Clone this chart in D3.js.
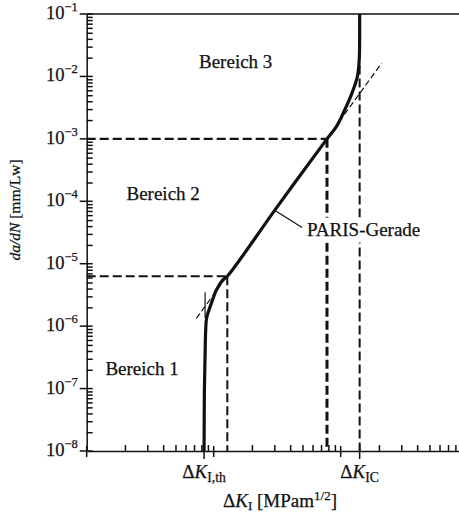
<!DOCTYPE html>
<html>
<head>
<meta charset="utf-8">
<script src="https://cdn.jsdelivr.net/npm/d3@7"></script>
<style>
  html, body { margin: 0; padding: 0; background: #fff; }
  svg { display: block; font-family: "Liberation Serif", "Times New Roman", serif; }
  text { fill: #111; stroke: #111; stroke-width: 0.25px; }
</style>
</head>
<body>
<script>
// Crack growth rate da/dN over stress intensity range ΔK (schematic, log-log)

// y decades (da/dN, mm per load cycle) and their exponents
const yDecades = [1e-8, 1e-7, 1e-6, 1e-5, 1e-4, 1e-3, 1e-2, 1e-1];
const yExponents = [-8, -7, -6, -5, -4, -3, -2, -1];

// x decades (ΔK, MPa·m^1/2)
const xDecades = [1, 10, 100];

// characteristic thresholds
const deltaKth = 8.4;
const deltaKIC = 141;

// crack growth curve [ΔK, da/dN]
const growthCurve = [
  [8.40, 1e-8],
  [8.45, 1e-7],
  [8.55, 3.2e-7],
  [8.65, 8.7e-7],
  [8.8, 1.35e-6],
  [9.6, 2.35e-6],
  [10.5, 3.8e-6],
  [11.8, 5.5e-6],
  [12.8, 6.3e-6],
  [31.7, 8.2e-5],
  [78, 1e-3],
  [92.5, 1.57e-3],
  [107.5, 2.9e-3],
  [122.7, 5.4e-3],
  [135.3, 9.9e-3],
  [139.9, 1.83e-2],
  [141, 4e-2],
  [141, 1e-1]
];

// PARIS straight line end points [ΔK, da/dN]
const parisLine = [[7.3, 1.33e-6], [210, 1.63e-2]];

// range limits of region 2 [ΔK, da/dN]
const region2Low = [12.8, 6.3e-6];
const region2High = [78, 1e-3];

// upper end of the ΔK_IC marker and short ΔK_th marker
const kicMarkerTop = 1.5e-2;
const kthMarker = [1.35e-6, 3.5e-6];

// region labels [text, ΔK, da/dN]
const regionLabels = [
  ["Bereich 3", 14.9, 1.36e-2],
  ["Bereich 2", 4.0, 1.05e-4],
  ["Bereich 1", 2.73, 1.65e-7]
];

// PARIS label pointer on the line [ΔK, da/dN]
const parisPointer = [30.4, 7.1e-5];
const parisText = "PARIS-Gerade";

const W = 459, H = 518;

const svg = d3.select("body").append("svg")
  .attr("width", W).attr("height", H);

const x = d3.scaleLog().domain([1, 1000]).range([86.7, 467.7]);
const y = d3.scaleLog().domain([1e-8, 1e-1]).range([451, 14]);

const ink = "#111";

// ---------- axes ----------
const xMinor = x.ticks().filter(v => !xDecades.includes(v) && v < 1000);
const yMinor = y.ticks().filter(v => !yDecades.some(d => Math.abs(d - v) / d < 1e-9));

const gx = svg.append("g")
  .attr("transform", `translate(0,${y(1e-8)})`)
  .call(d3.axisBottom(x).tickValues(xMinor).tickSize(-6).tickSizeOuter(0).tickFormat(""));
gx.selectAll("path, line").attr("stroke", ink).attr("stroke-width", 1.5);

const gy = svg.append("g")
  .attr("transform", `translate(${x(1)},0)`)
  .call(d3.axisLeft(y).tickValues(yMinor).tickSize(-6).tickSizeOuter(0).tickFormat(""));
gy.selectAll("path, line").attr("stroke", ink).attr("stroke-width", 1.5);

// top frame line
svg.append("line")
  .attr("x1", x(1)).attr("x2", W)
  .attr("y1", y(1e-1)).attr("y2", y(1e-1))
  .attr("stroke", ink).attr("stroke-width", 1.5);

// decade ticks on x
svg.selectAll(".xmaj").data(xDecades).join("line")
  .attr("x1", d => x(d)).attr("x2", d => x(d))
  .attr("y1", y(1e-8) - 5).attr("y2", y(1e-8) + 6)
  .attr("stroke", ink).attr("stroke-width", 1.5);

// decade ticks on y
svg.selectAll(".ymaj").data(yDecades).join("line")
  .attr("x1", x(1) - 7).attr("x2", x(1) + 6)
  .attr("y1", d => y(d)).attr("y2", d => y(d))
  .attr("stroke", ink).attr("stroke-width", 1.5);

// y tick labels 10^n
const yLab = svg.selectAll(".ylab").data(yDecades).join("text")
  .attr("x", x(1) - 9)
  .attr("y", d => y(d) + 5)
  .attr("text-anchor", "end")
  .attr("font-size", 18.5);
yLab.append("tspan").text("10");
yLab.append("tspan").attr("dy", -8).attr("font-size", 12.5)
  .text((d, i) => "\u2212" + Math.abs(yExponents[i]));

// ΔK marker ticks on x
[deltaKth, deltaKIC].forEach(v => {
  svg.append("line")
    .attr("x1", x(v)).attr("x2", x(v))
    .attr("y1", y(1e-8) - 6).attr("y2", y(1e-8) + 8)
    .attr("stroke", ink).attr("stroke-width", 1.5);
});

function deltaKLabel(xPos, yPos, sub, size) {
  const t = svg.append("text")
    .attr("x", xPos).attr("y", yPos)
    .attr("text-anchor", "middle")
    .attr("font-size", size);
  t.append("tspan").text("\u0394");
  t.append("tspan").attr("font-style", "italic").text("K");
  t.append("tspan").attr("dy", 4).attr("font-size", size * 0.72).text(sub);
  return t;
}
deltaKLabel(x(deltaKth), 478, "I,th", 19);
deltaKLabel(x(deltaKIC), 478, "IC", 19);

// x axis title
const xt = svg.append("text")
  .attr("x", 280).attr("y", 506.5)
  .attr("text-anchor", "middle")
  .attr("font-size", 19);
xt.append("tspan").text("\u0394");
xt.append("tspan").attr("font-style", "italic").text("K");
xt.append("tspan").attr("dy", 3).attr("font-size", 13).text("I");
xt.append("tspan").attr("dy", -3).text(" [MPam");
xt.append("tspan").attr("dy", -7).attr("font-size", 13).text("1/2");
xt.append("tspan").attr("dy", 7).text("]");

// y axis title
const yt = svg.append("text")
  .attr("transform", `translate(20,210) rotate(-90)`)
  .attr("text-anchor", "middle")
  .attr("font-size", 15.5);
yt.append("tspan").attr("font-style", "italic").text("da/dN");
yt.append("tspan").text(" [mm/Lw]");

// ---------- dashed guide lines ----------
const guide = (x1, y1, x2, y2, w) => svg.append("line")
  .attr("x1", x1).attr("y1", y1).attr("x2", x2).attr("y2", y2)
  .attr("stroke", ink).attr("stroke-width", w)
  .attr("stroke-dasharray", "9,4");

guide(x(1), y(region2Low[1]), x(region2Low[0]), y(region2Low[1]), 2.2);
guide(x(region2Low[0]), y(region2Low[1]), x(region2Low[0]), y(1e-8), 2);
guide(x(1), y(region2High[1]), x(region2High[0]), y(region2High[1]), 2.2);
guide(x(region2High[0]), y(region2High[1]), x(region2High[0]), y(1e-8), 3);
guide(x(deltaKIC), y(kicMarkerTop), x(deltaKIC), y(1e-8), 2);

// short ΔK_th marker
svg.append("line")
  .attr("x1", x(deltaKth) + 1).attr("x2", x(deltaKth) + 1)
  .attr("y1", y(kthMarker[0])).attr("y2", y(kthMarker[1]))
  .attr("stroke", ink).attr("stroke-width", 1.2);

// PARIS straight line (thin dashed)
svg.append("line")
  .attr("x1", x(parisLine[0][0])).attr("y1", y(parisLine[0][1]))
  .attr("x2", x(parisLine[1][0])).attr("y2", y(parisLine[1][1]))
  .attr("stroke", ink).attr("stroke-width", 1.2)
  .attr("stroke-dasharray", "6,3");

// ---------- growth curve ----------
const line = d3.line()
  .x(d => x(d[0])).y(d => y(d[1]))
  .curve(d3.curveCatmullRom.alpha(0.5));

svg.append("path")
  .datum(growthCurve)
  .attr("d", line)
  .attr("fill", "none")
  .attr("stroke", ink)
  .attr("stroke-width", 3.2)
  .attr("stroke-linejoin", "round")
  .attr("stroke-linecap", "butt");

// ---------- labels ----------
svg.selectAll(".region").data(regionLabels).join("text")
  .attr("x", d => x(d[1])).attr("y", d => y(d[2]))
  .attr("text-anchor", "middle")
  .attr("font-size", 19)
  .text(d => d[0]);

const px = x(parisPointer[0]), py = y(parisPointer[1]);
svg.append("line")
  .attr("x1", px).attr("y1", py)
  .attr("x2", px + 27).attr("y2", py + 17)
  .attr("stroke", ink).attr("stroke-width", 1.2);
const pLabel = svg.append("text")
  .attr("x", px + 32).attr("y", py + 25)
  .attr("font-size", 19)
  .text(parisText);
// white backing so the guide lines break around the label
const bb = pLabel.node().getBBox();
svg.insert("rect", () => pLabel.node())
  .attr("x", bb.x - 2).attr("y", bb.y - 1)
  .attr("width", bb.width + 4).attr("height", bb.height + 4)
  .attr("fill", "#fff");
</script>
</body>
</html>
